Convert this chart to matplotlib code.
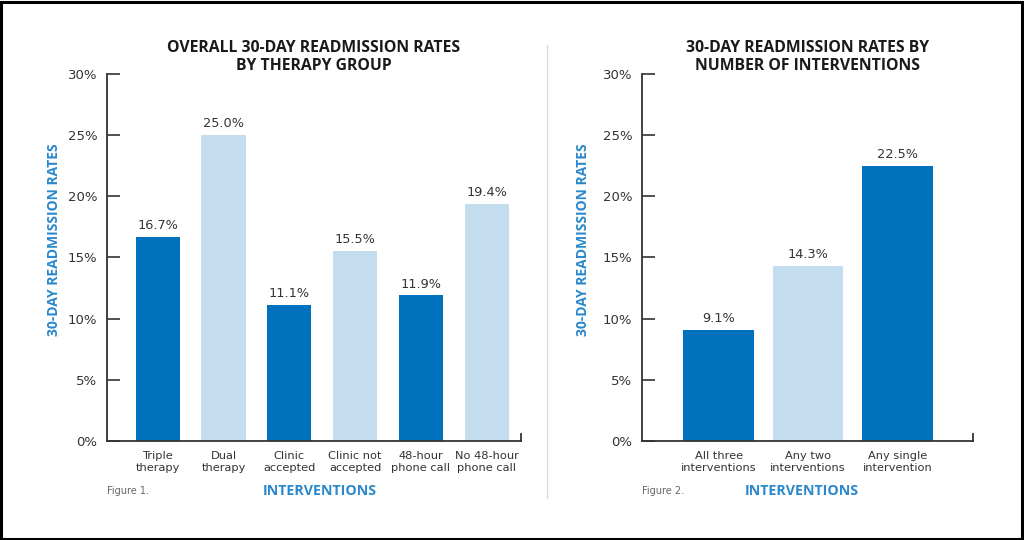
import matplotlib

matplotlib.use("Agg")

import matplotlib.pyplot as plt
from matplotlib.lines import Line2D
from matplotlib.patches import Rectangle
from matplotlib.ticker import FuncFormatter

# figure 1: therapy groups
therapy_labels = [
    "Triple\ntherapy",
    "Dual\ntherapy",
    "Clinic\naccepted",
    "Clinic not\naccepted",
    "48-hour\nphone call",
    "No 48-hour\nphone call",
]
therapy_rates = [16.7, 25.0, 11.1, 15.5, 11.9, 19.4]

# figure 2: number of interventions
count_labels = [
    "All three\ninterventions",
    "Any two\ninterventions",
    "Any single\nintervention",
]
count_rates = [9.1, 14.3, 22.5]

y_ticks = [0, 5, 10, 15, 20, 25, 30]

DARK = "#0071bc"
LIGHT = "#c3ddef"
LABEL_BLUE = "#2a88cc"
TEXT = "#333333"
TITLE_FONT = "Open Sans"


def _panel(fig, rect, labels, rates, colors, xlim, width, title, fig_note,
           ylabel_x, xlabel_x):
    ax = fig.add_axes(rect)
    xs = list(range(len(rates)))
    ax.bar(xs, rates, width=width, color=colors, zorder=2)
    for x, r in zip(xs, rates):
        ax.text(
            x, r + 0.4, f"{r:.1f}%",
            ha="center", va="bottom", fontsize=9.3, color=TEXT,
        )
    ax.set_xlim(*xlim)
    ax.set_ylim(0, 30)
    ax.set_yticks(y_ticks)
    ax.yaxis.set_major_formatter(FuncFormatter(lambda v, _: f"{v:.0f}%"))
    ax.tick_params(
        axis="y", direction="in", length=9, width=1.2,
        color="#333333", labelsize=9.5, labelcolor=TEXT, pad=7,
    )
    ax.set_xticks(xs)
    ax.set_xticklabels(labels, fontsize=8.2, color=TEXT, linespacing=1.3)
    ax.tick_params(axis="x", length=0, pad=7)
    ax.spines[["top", "right"]].set_visible(False)
    for side in ("left", "bottom"):
        ax.spines[side].set_color("#333333")
        ax.spines[side].set_linewidth(1.3)
    # little closing tick at the right end of the x axis
    ax.add_line(Line2D(
        [xlim[1], xlim[1]], [0, 0.6], color="#333333", linewidth=1.3,
        clip_on=False,
    ))
    ax.set_title(
        title, fontsize=11.3, fontweight="bold", color="#1a1a1a",
        family=TITLE_FONT, linespacing=1.15, pad=0,
    )
    ax.set_ylabel(
        "30-DAY READMISSION RATES", fontsize=10, fontweight="bold",
        color=LABEL_BLUE, family=TITLE_FONT,
    )
    ax.yaxis.set_label_coords(ylabel_x, 0.548)
    ax.set_xlabel(
        "INTERVENTIONS", fontsize=10.3, fontweight="bold",
        color=LABEL_BLUE, family=TITLE_FONT,
    )
    ax.xaxis.set_label_coords(xlabel_x, -0.118)
    ax.text(
        0, -0.136, fig_note, transform=ax.transAxes,
        fontsize=7, color="#666666", ha="left", va="center",
    )
    return ax


fig = plt.figure(figsize=(10.24, 5.4), dpi=100)
fig.patch.set_facecolor("white")

_panel(
    fig, [0.1045, 0.1833, 0.4043, 0.6797],
    therapy_labels, therapy_rates,
    [DARK, LIGHT] * 3,
    (-0.77, 5.52), 0.67,
    "OVERALL 30-DAY READMISSION RATES\nBY THERAPY GROUP",
    "Figure 1.",
    -0.112, 0.514,
)
_panel(
    fig, [0.627, 0.1833, 0.323, 0.6797],
    count_labels, count_rates,
    [DARK, LIGHT, DARK],
    (-0.855, 2.84), 0.79,
    "30-DAY READMISSION RATES BY\nNUMBER OF INTERVENTIONS",
    "Figure 2.",
    -0.156, 0.483,
)

# divider between the panels
fig.add_artist(Line2D(
    [0.534, 0.534], [0.078, 0.917], transform=fig.transFigure,
    color="#dddddd", linewidth=1.0,
))
# outer frame
fig.add_artist(Rectangle(
    (0.001, 0.002), 0.997, 0.995, transform=fig.transFigure,
    fill=False, edgecolor="black", linewidth=2.2,
))

fig.savefig("out.png", dpi=100, facecolor="white")
